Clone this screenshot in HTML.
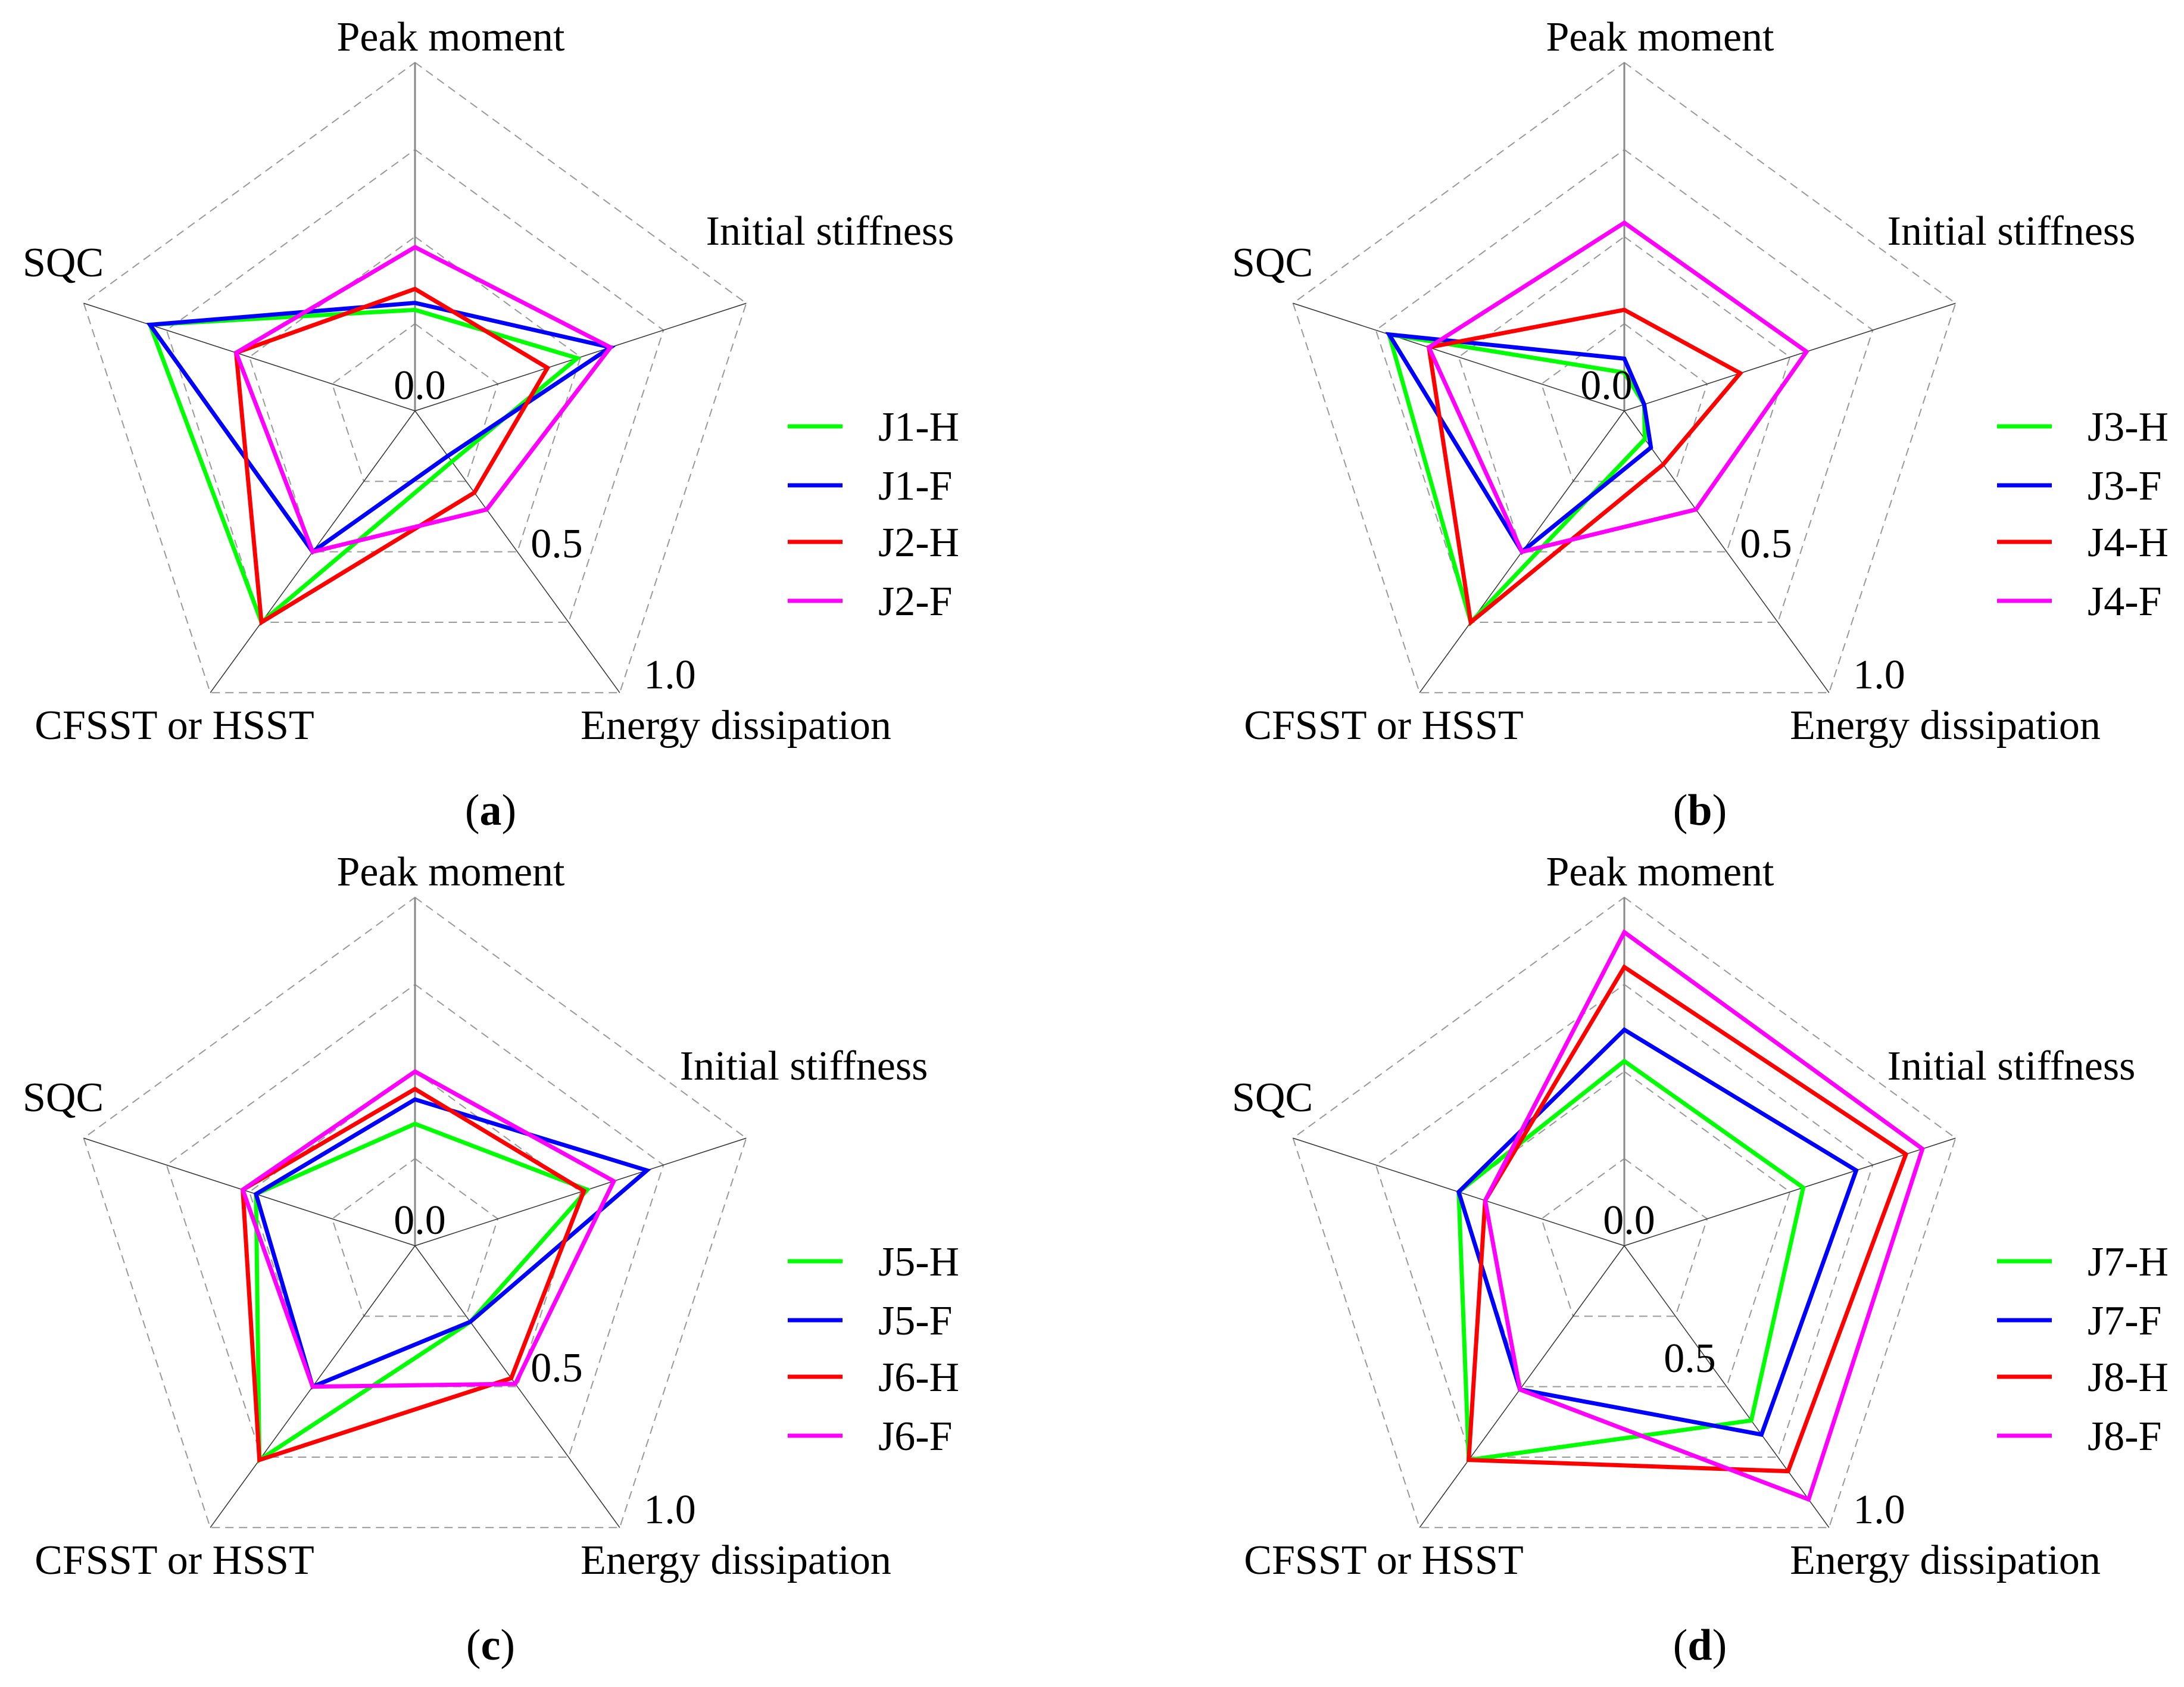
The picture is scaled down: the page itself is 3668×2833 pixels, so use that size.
<!DOCTYPE html>
<html><head><meta charset="utf-8"><style>
html,body{margin:0;padding:0;background:#fff;}
svg{display:block;}
text{font-family:"Liberation Serif","DejaVu Serif",serif;fill:#000;}
</style></head><body>
<svg id="fig" width="3668" height="2833" viewBox="0 0 3668 2833" xmlns="http://www.w3.org/2000/svg"></svg>
<script>
const axisNames = ["Peak moment","Initial stiffness","Energy dissipation","CFSST or HSST","SQC"];
const ringLevels = [0.25,0.5,0.75,1.0];
const colors = ["#00ff00","#0000ff","#ff0000","#ff00ff"];
const namesA = ["J1-H","J1-F","J2-H","J2-F"];
const namesB = ["J3-H","J3-F","J4-H","J4-F"];
const namesC = ["J5-H","J5-F","J6-H","J6-F"];
const namesD = ["J7-H","J7-F","J8-H","J8-F"];
// values order: peak, stiffness, energy, CFSST/HSST, SQC
const valsA_J1H = [0.29,0.49,0.18,0.75,0.80];
const valsA_J1F = [0.31,0.59,0.16,0.50,0.80];
const valsA_J2H = [0.35,0.40,0.29,0.75,0.54];
const valsA_J2F = [0.47,0.59,0.35,0.50,0.54];
const valsB_J3H = [0.11,0.06,0.10,0.75,0.71];
const valsB_J3F = [0.15,0.06,0.13,0.50,0.71];
const valsB_J4H = [0.29,0.35,0.19,0.75,0.59];
const valsB_J4F = [0.54,0.55,0.35,0.50,0.59];
const valsC_J5H = [0.35,0.52,0.27,0.76,0.48];
const valsC_J5F = [0.42,0.70,0.27,0.50,0.48];
const valsC_J6H = [0.45,0.51,0.47,0.76,0.52];
const valsC_J6F = [0.50,0.60,0.49,0.50,0.52];
const valsD_J7H = [0.53,0.54,0.62,0.76,0.50];
const valsD_J7F = [0.62,0.70,0.67,0.51,0.50];
const valsD_J8H = [0.80,0.85,0.80,0.76,0.42];
const valsD_J8F = [0.90,0.90,0.90,0.51,0.42];

const NS = "http://www.w3.org/2000/svg";
const svg = document.getElementById("fig");
const R = 585;
const FONT = '"Liberation Serif", "DejaVu Serif", serif';
function mk(tag, attrs, parent){
  const e = document.createElementNS(NS, tag);
  for (const k in attrs) e.setAttribute(k, attrs[k]);
  if (tag === "text") e.setAttribute("font-family", FONT);
  (parent||svg).appendChild(e);
  return e;
}
function ang(i){ return (90 - 72*i) * Math.PI/180; }
function pt(cx, cy, i, v){ return [cx + Math.cos(ang(i))*R*v, cy - Math.sin(ang(i))*R*v]; }

function panel(key, cx, cy, names, series, opts){
  const g = mk("g", {});
  
  
  ringLevels.forEach(function(lv){
    const p = [0,1,2,3,4].map(function(i){ return pt(cx,cy,i,lv).join(","); }).join(" ");
    const ring = mk("polygon", {points:p, fill:"none", stroke:"#999", "stroke-width":2, "stroke-dasharray":"14,9"}, g);
    
    
  });
  for (let i=0;i<5;i++){
    const e = pt(cx,cy,i,1);
    const ax = mk("line", {x1:cx, y1:cy, x2:e[0], y2:e[1], stroke: i==0 ? "#888" : "#333", "stroke-width": i==0 ? 3 : 1.5}, g);
    
    
  }
  series.forEach(function(vals, s){
    const p = vals.map(function(v,i){ return pt(cx,cy,i,v).join(","); }).join(" ");
    const poly = mk("polygon", {points:p, fill:"none", stroke:colors[s], "stroke-width":7, "stroke-linejoin":"miter"}, g);
    
    
  });
  const labelPos = [[cx+60,cy-605,"middle"],[cx+697+(opts.stiffDx||0),cy-279,"middle"],[cx+539,cy+551,"middle"],[cx-404,cy+551,"middle"],[cx-659,cy-226,"start"]];
  axisNames.forEach(function(n,i){
    const t = mk("text", {x:labelPos[i][0], y:labelPos[i][1], "text-anchor":labelPos[i][2], "font-size":70}, g);
    t.textContent = n;
    
    
  });
  const ticks = [["0.0",cx+(opts.zeroDx||8),cy-20],["0.5",cx+(opts.halfDx||238),cy+(opts.halfDy||246)],["1.0",cx+428,cy+466]];
  ticks.forEach(function(tk){
    const t = mk("text", {x:tk[1], y:tk[2], "text-anchor":"middle", "font-size":70}, g);
    t.textContent = tk[0];
    
    
  });
  const ly = [716,815,910,1009];
  names.forEach(function(n,s){
    const y = cy - 690 + ly[s];
    const l = mk("line", {x1:cx+626, y1:y, x2:cx+718, y2:y, stroke:colors[s], "stroke-width":7}, g);
    
    
    const t = mk("text", {x:cx+778, y:y+24, "font-size":70}, g);
    t.textContent = n;
    
    
  });
  const c = mk("text", {x:cx+127, y:cy+695, "text-anchor":"middle", "font-size":74}, g);
  
  
  const a1 = document.createElementNS(NS,"tspan"); a1.textContent="("; c.appendChild(a1);
  const a2 = document.createElementNS(NS,"tspan"); a2.setAttribute("font-weight","bold"); a2.textContent=key; c.appendChild(a2);
  const a3 = document.createElementNS(NS,"tspan"); a3.textContent=")"; c.appendChild(a3);
}

panel("a", 697, 690, namesA, [valsA_J1H,valsA_J1F,valsA_J2H,valsA_J2F], {});
panel("b", 2728, 690, namesB, [valsB_J3H,valsB_J3F,valsB_J4H,valsB_J4F], {stiffDx:-47, zeroDx:-30});
panel("c", 697, 2092, namesC, [valsC_J5H,valsC_J5F,valsC_J6H,valsC_J6F], {stiffDx:-44, halfDx:238, halfDy:228});
panel("d", 2728, 2092, namesD, [valsD_J7H,valsD_J7F,valsD_J8H,valsD_J8F], {stiffDx:-47, halfDx:110, halfDy:212});
</script>
</body></html>
